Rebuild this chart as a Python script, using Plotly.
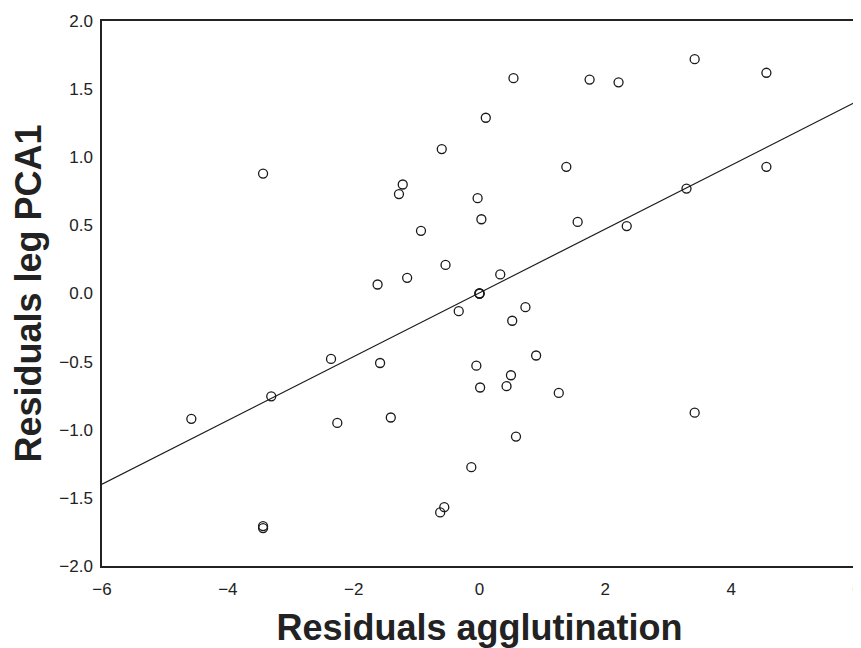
import plotly.graph_objects as go

resid_agglutination = [
    -3.44, -0.60, -1.22, -1.28, -0.93, -0.54, -1.15, -1.62,
    0.54, 1.75, 2.21, 3.42, 4.56, 0.10, 1.38, 4.56,
    -0.03, 0.03, 1.56, 2.34, 3.29, 0.33, 0.0, 0.0, 0.0,
    -0.33, -2.36, -1.58, -3.31, -4.58, -2.26, -1.41,
    -3.44, -3.44, -0.625, -0.56, -0.13,
    0.73, 0.52, 0.90, -0.05, 0.50, 0.01, 0.43, 1.26, 3.42, 0.58,
]
resid_leg_pca1 = [
    0.88, 1.06, 0.80, 0.73, 0.46, 0.21, 0.115, 0.066,
    1.58, 1.57, 1.55, 1.72, 1.62, 1.29, 0.93, 0.93,
    0.70, 0.545, 0.525, 0.495, 0.77, 0.14, 0.0, 0.0, 0.0,
    -0.13, -0.48, -0.51, -0.755, -0.92, -0.95, -0.91,
    -1.707, -1.722, -1.607, -1.568, -1.275,
    -0.10, -0.20, -0.455, -0.53, -0.60, -0.69, -0.68, -0.73, -0.875, -1.05,
]
fit_x = [-6, 6]
fit_y = [-1.40, 1.41]

x_ticks = [-6, -4, -2, 0, 2, 4, 6]
y_ticks = [-2.0, -1.5, -1.0, -0.5, 0.0, 0.5, 1.0, 1.5, 2.0]

fig = go.Figure()
fig.add_trace(go.Scatter(
    x=fit_x, y=fit_y, mode="lines",
    line=dict(color="#1a1a1a", width=1.2),
    showlegend=False, hoverinfo="skip",
))
fig.add_trace(go.Scatter(
    x=resid_agglutination, y=resid_leg_pca1, mode="markers",
    marker=dict(symbol="circle-open", size=9, color="#1a1a1a",
                line=dict(width=1.3, color="#1a1a1a")),
    showlegend=False,
))

axis_font = dict(family="Liberation Sans, Arial, sans-serif", size=17, color="#222")
title_font = dict(family="Liberation Sans, Arial, sans-serif", size=36, color="#222")

# page body adds an 8px offset, so the figure is sized to fit the window
fig.update_layout(
    width=853, height=640,
    margin=dict(l=94, r=4, t=13, b=82),
    paper_bgcolor="white", plot_bgcolor="white",
    xaxis=dict(
        range=[-6, 6], tickvals=x_ticks,
        ticktext=[("\u2212" + str(abs(v))) if v < 0 else str(v) for v in x_ticks],
        showgrid=False, zeroline=False, ticks="",
        showline=True, linecolor="#222", linewidth=1.5, mirror=True,
        tickfont=axis_font, ticklabelstandoff=7, ticklabeloverflow="allow",
        automargin=False,
        title=dict(text="<b>Residuals agglutination</b>", font=title_font, standoff=17),
    ),
    yaxis=dict(
        range=[-2, 2], tickvals=y_ticks,
        ticktext=[("\u2212" + f"{abs(v):.1f}") if v < 0 else f"{v:.1f}" for v in y_ticks],
        showgrid=False, zeroline=False, ticks="",
        showline=True, linecolor="#222", linewidth=1.5, mirror=True,
        tickfont=axis_font, ticklabelstandoff=4, ticklabeloverflow="allow",
        automargin=False,
        title=dict(text="<b>Residuals leg PCA1</b>", font=title_font, standoff=10),
    ),
)

fig.write_html("out.html")
